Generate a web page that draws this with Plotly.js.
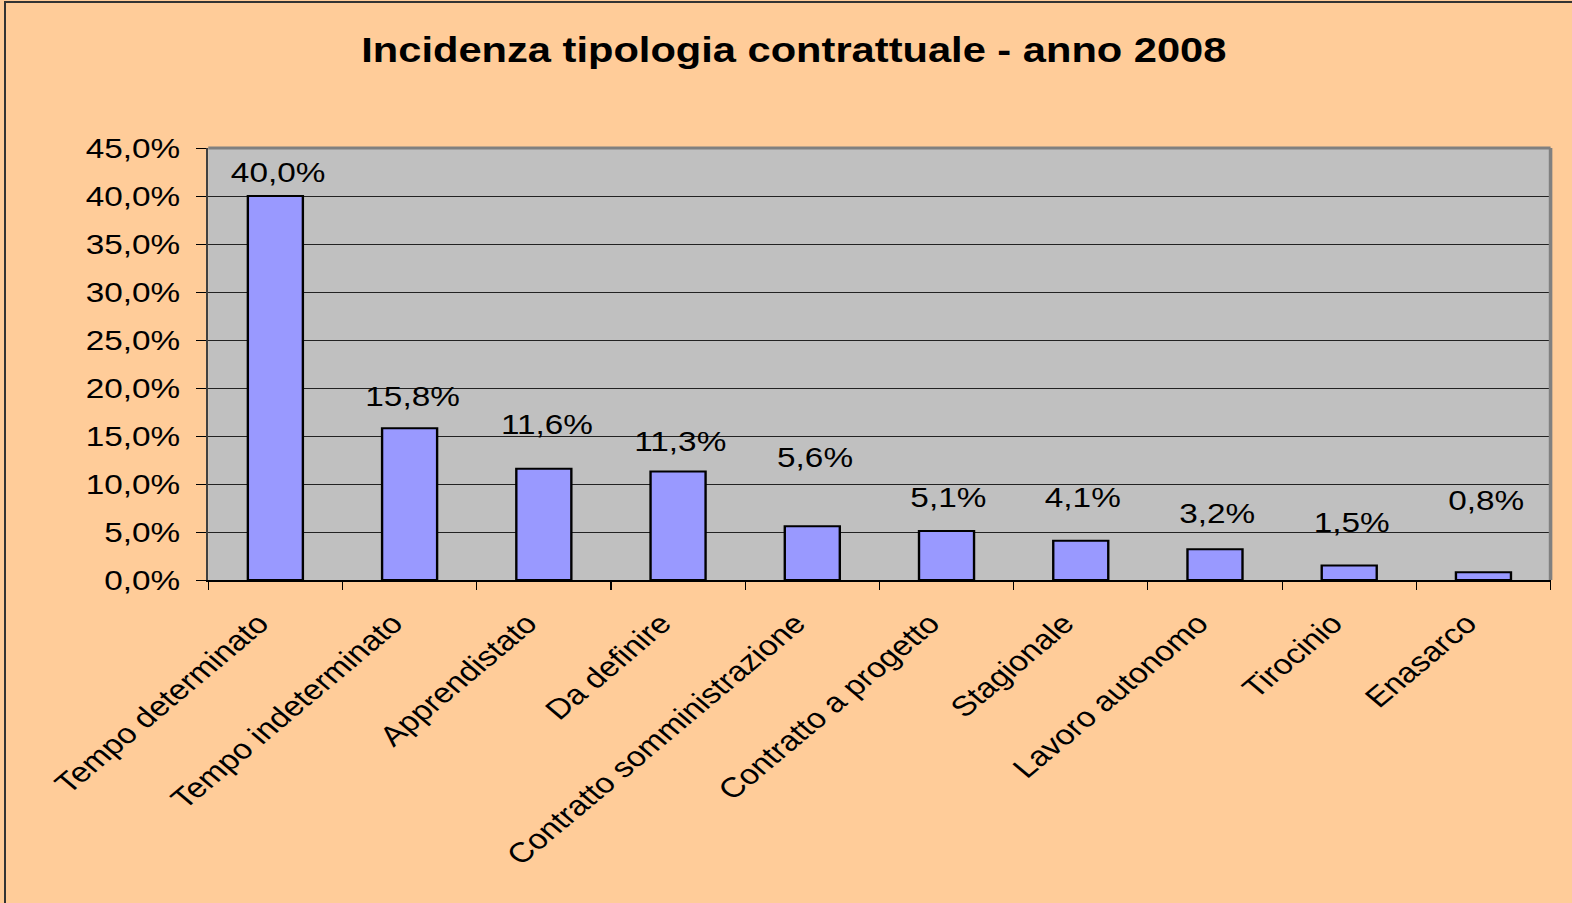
<!DOCTYPE html>
<html>
<head>
<meta charset="utf-8">
<script src="https://cdn.plot.ly/plotly-3.0.1.min.js"></script>
<style>
html, body { margin: 0; padding: 0; background: #FFCC99; overflow: hidden; }
#wrap { position: absolute; left: 0; top: 0; width: 1572px; height: 903px; overflow: hidden; }
#frame { position: absolute; left: 4px; top: 1px; width: 1580px; height: 920px; border-left: 2px solid #333; border-top: 2px solid #333; pointer-events: none; }
#chart { position: absolute; left: 0; top: 0; width: 1321px; height: 903px; transform: scaleX(1.19); transform-origin: 0 0; }
</style>
</head>
<body>
<div id="wrap">
  <div id="chart"></div>
  <div id="frame"></div>
</div>
<script>
const categories = [
  "Tempo determinato", "Tempo indeterminato", "Apprendistato", "Da definire",
  "Contratto somministrazione", "Contratto a progetto", "Stagionale",
  "Lavoro autonomo", "Tirocinio", "Enasarco"
];
const values = [40.0, 15.8, 11.6, 11.3, 5.6, 5.1, 4.1, 3.2, 1.5, 0.8];
const labels = ["40,0%", "15,8%", "11,6%", "11,3%", "5,6%", "5,1%", "4,1%", "3,2%", "1,5%", "0,8%"];
const yTicks = [0, 5, 10, 15, 20, 25, 30, 35, 40, 45];
const yTickText = ["0,0%", "5,0%", "10,0%", "15,0%", "20,0%", "25,0%", "30,0%", "35,0%", "40,0%", "45,0%"];
const labelLift = [24, 32, 44, 30, 69, 34, 43, 36, 43, 72];

const font = "Liberation Sans, Arial, sans-serif";

const trace = {
  type: "bar",
  x: categories,
  y: values,
  width: 0.41,
  marker: { color: "#9999FF", line: { color: "#000000", width: 2 } },
  hoverinfo: "skip"
};

const annotations = categories.map((c, i) => ({
  x: c, y: values[i], xref: "x", yref: "y",
  text: labels[i], showarrow: false,
  yshift: labelLift[i], xshift: 2,
  font: { family: font, size: 28, color: "#000" }
}));

const layout = {
  width: 1321, height: 903,
  paper_bgcolor: "#FFCC99",
  plot_bgcolor: "#C0C0C0",
  margin: { l: 175, r: 18, t: 148, b: 323 },
  showlegend: false,
  title: {
    text: "<b>Incidenza tipologia contrattuale - anno 2008</b>",
    x: 0.505, xref: "container", xanchor: "center",
    y: 0.945, yref: "container", yanchor: "middle",
    font: { family: font, size: 35, color: "#000" }
  },
  xaxis: {
    type: "category",
    tickangle: -45,
    ticks: "outside", tickson: "boundaries", ticklen: 8, tickcolor: "#000", tickwidth: 1,
    ticklabelstandoff: 14, ticklabelshift: -14,
    showline: true, linecolor: "#000", linewidth: 2,
    showgrid: false,
    tickfont: { family: font, size: 28, color: "#000" },
    range: [-0.5, 9.5]
  },
  yaxis: {
    range: [0, 45],
    tickvals: yTicks, ticktext: yTickText,
    ticks: "outside", ticklen: 8, tickcolor: "#000", tickwidth: 1,
    ticklabelstandoff: 8,
    showline: true, linecolor: "#404040", linewidth: 2,
    showgrid: true, gridcolor: "#222222", gridwidth: 1,
    zeroline: false,
    tickfont: { family: font, size: 28, color: "#000" }
  },
  shapes: [
    { type: "line", xref: "paper", yref: "paper", x0: 0, x1: 1, y0: 1, y1: 1, line: { color: "#808080", width: 3 } },
    { type: "line", xref: "paper", yref: "paper", x0: 1, x1: 1, y0: 0, y1: 1, line: { color: "#808080", width: 3 } }
  ],
  annotations: annotations,
  bargap: 0.59
};

Plotly.newPlot("chart", [trace], layout, { displayModeBar: false, staticPlot: true });
</script>
</body>
</html>
